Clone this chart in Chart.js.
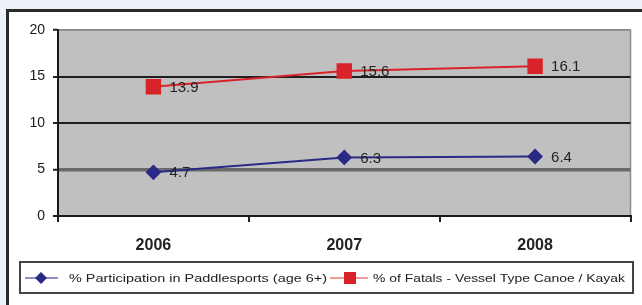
<!DOCTYPE html>
<html>
<head>
<meta charset="utf-8">
<script src="https://cdn.jsdelivr.net/npm/chart.js@4/dist/chart.umd.min.js"></script>
<style>
html,body{margin:0;padding:0;background:#edf2f8;}
#wrap{width:642px;height:305px;position:relative;}
</style>
</head>
<body>
<div id="wrap"><canvas id="c" width="642" height="305"></canvas></div>
<script>
const years = ['2006', '2007', '2008'];
const participation = [4.7, 6.3, 6.4];
const fatals = [13.9, 15.6, 16.1];
const seriesNames = ['% Participation in Paddlesports (age 6+)', '% of Fatals - Vessel Type Canoe / Kayak'];
const yTicks = [0, 5, 10, 15, 20];

const BLUE = '#2a2a86';
const RED = '#d8232a';
const FONT = '"Liberation Sans", "DejaVu Sans", sans-serif';

const framePlugin = {
  id: 'frame',
  beforeDraw(chart) {
    const ctx = chart.ctx, ca = chart.chartArea;
    ctx.save();
    ctx.fillStyle = '#edf2f8';
    ctx.fillRect(0, 0, chart.width, chart.height);
    ctx.fillStyle = '#ffffff';
    ctx.fillRect(7, 10, chart.width, chart.height);
    ctx.strokeStyle = '#2a2a2a';
    ctx.lineWidth = 3;
    ctx.beginPath();
    ctx.moveTo(7.5, chart.height + 5);
    ctx.lineTo(7.5, 10.5);
    ctx.lineTo(chart.width + 5, 10.5);
    ctx.stroke();
    ctx.fillStyle = '#c0c0c0';
    ctx.fillRect(ca.left, ca.top, ca.right - ca.left, ca.bottom - ca.top);
    ctx.strokeStyle = '#8a8a8a';
    ctx.lineWidth = 1.5;
    ctx.strokeRect(ca.left, ca.top, ca.right - ca.left, ca.bottom - ca.top);
    ctx.restore();
  },
  afterDatasetsDraw(chart) {
    const ctx = chart.ctx;
    ctx.save();
    ctx.font = '15px ' + FONT;
    ctx.fillStyle = '#222';
    ctx.textAlign = 'left';
    ctx.textBaseline = 'middle';
    chart.data.datasets.forEach((ds, i) => {
      const meta = chart.getDatasetMeta(i);
      meta.data.forEach((pt, j) => {
        ctx.fillText(ds.data[j].toFixed(1), pt.x + 16, pt.y + 1);
      });
    });
    ctx.restore();
  },
  afterDraw(chart) {
    const ctx = chart.ctx;
    ctx.save();
    // legend box
    ctx.fillStyle = '#ffffff';
    ctx.strokeStyle = '#444';
    ctx.lineWidth = 2;
    ctx.fillRect(20, 262, 613, 31);
    ctx.strokeRect(20, 262, 613, 31);
    const cy = 278;
    const items = [
      {x0: 25, x1: 58, mx: 41, textX: 69, textW: 258, color: BLUE, line: '#8c8cc8', style: 'diamond'},
      {x0: 330, x1: 368, mx: 350, textX: 373, textW: 252, color: RED, line: '#ee9a9a', style: 'square'}
    ];
    ctx.font = '11px ' + FONT;
    ctx.textBaseline = 'middle';
    ctx.textAlign = 'left';
    chart.data.datasets.forEach((ds, i) => {
      const it = items[i];
      ctx.strokeStyle = it.line;
      ctx.lineWidth = 2;
      ctx.beginPath();
      ctx.moveTo(it.x0, cy);
      ctx.lineTo(it.x1, cy);
      ctx.stroke();
      ctx.fillStyle = it.color;
      ctx.beginPath();
      if (it.style === 'diamond') {
        ctx.moveTo(it.mx, cy - 6);
        ctx.lineTo(it.mx + 6, cy);
        ctx.lineTo(it.mx, cy + 6);
        ctx.lineTo(it.mx - 6, cy);
        ctx.closePath();
        ctx.fill();
      } else {
        ctx.fillRect(it.mx - 6, cy - 6, 12, 12);
      }
      ctx.fillStyle = '#222';
      const w = ctx.measureText(ds.label).width;
      ctx.save();
      ctx.translate(it.textX, cy + 1);
      ctx.scale(it.textW / w, 1);
      ctx.fillText(ds.label, 0, 0);
      ctx.restore();
    });
    ctx.restore();
  }
};

new Chart(document.getElementById('c'), {
  type: 'line',
  data: {
    labels: years,
    datasets: [
      {
        label: seriesNames[0],
        data: participation,
        borderColor: BLUE,
        backgroundColor: BLUE,
        borderWidth: 2,
        pointStyle: 'rectRot',
        pointRadius: 6.5,
        pointHoverRadius: 6.5,
        tension: 0
      },
      {
        label: seriesNames[1],
        data: fatals,
        borderColor: RED,
        backgroundColor: RED,
        borderWidth: 2,
        pointStyle: 'rect',
        pointRadius: 9.5,
        pointHoverRadius: 9.5,
        tension: 0
      }
    ]
  },
  options: {
    responsive: false,
    animation: false,
    events: [],
    layout: { padding: { left: 6, top: 30, right: 10, bottom: 45 } },
    plugins: { legend: { display: false }, tooltip: { enabled: false } },
    scales: {
      x: {
        type: 'category',
        offset: true,
        afterFit(s) { s.height = 44; },
        grid: { offset: true, drawOnChartArea: false, drawTicks: true, tickLength: 6, color: '#222', lineWidth: 2 },
        border: { color: '#1a1a1a', width: 2 },
        ticks: { color: '#222', font: { family: FONT, size: 16, weight: 'bold' }, padding: 14 }
      },
      y: {
        min: 0,
        max: 20,
        afterFit(s) { s.width = 52; },
        afterBuildTicks(s) { s.ticks = yTicks.map(v => ({ value: v })); },
        grid: {
          color: (c) => c.tick && c.tick.value === 20 ? '#8a8a8a' : (c.tick && c.tick.value === 5 ? '#6a6a6a' : '#1e1e1e'),
          lineWidth: (c) => c.tick && c.tick.value === 5 ? 3.5 : (c.tick && c.tick.value === 20 ? 1.5 : 2),
          tickColor: '#1e1e1e',
          tickWidth: 2,
          drawTicks: true,
          tickLength: 5
        },
        border: { color: '#1a1a1a', width: 2 },
        ticks: { color: '#1a1a1a', font: { family: FONT, size: 14 }, padding: 8 }
      }
    }
  },
  plugins: [framePlugin]
});
</script>
</body>
</html>
